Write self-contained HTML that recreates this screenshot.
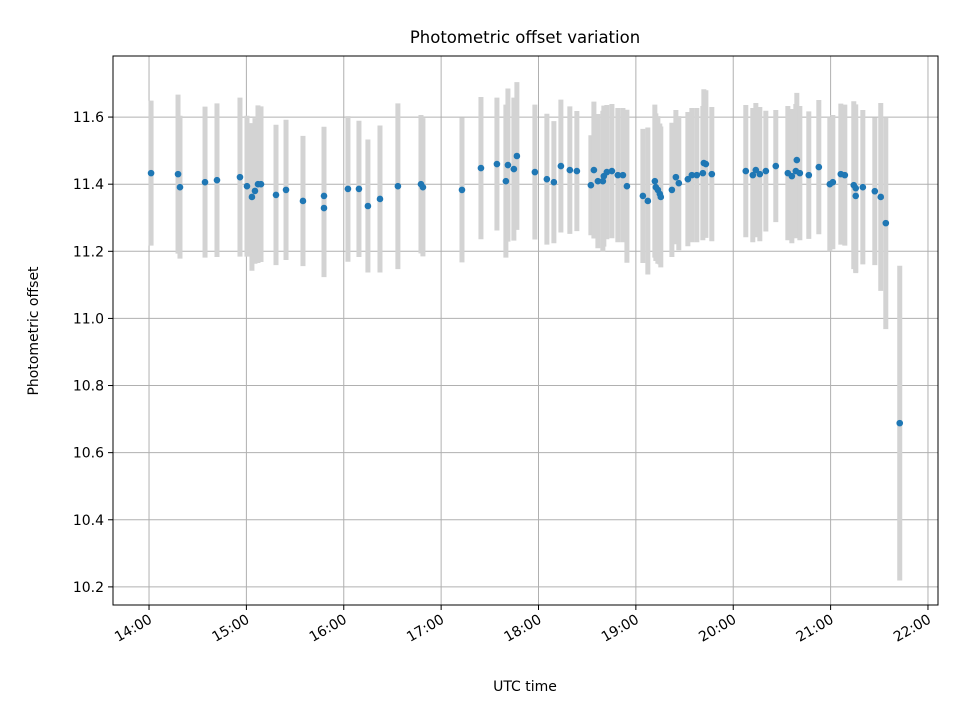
<!DOCTYPE html>
<html><head><meta charset="utf-8"><style>
html,body{margin:0;padding:0;background:#fff;}
svg{display:block;font-family:"DejaVu Sans","Liberation Sans",sans-serif;}
</style></head><body>
<svg id="chart" width="960" height="720" viewBox="0 0 960 720" xmlns="http://www.w3.org/2000/svg">
<text x="525" y="43" text-anchor="middle" font-size="16.5" fill="#000">Photometric offset variation</text>
<g id="grid"></g>
<g id="bars"></g>
<g id="pts"></g>
<rect x="113" y="56" width="825" height="549" fill="none" stroke="#000" stroke-width="1"/>
<g id="xt"></g>
<g id="yt"></g>
<text x="525" y="691" text-anchor="middle" font-size="14" fill="#000">UTC time</text>
<text transform="translate(38,331) rotate(-90)" text-anchor="middle" font-size="14" fill="#000">Photometric offset</text>
</svg>
<script>
const times=[14.021,14.298,14.318,14.575,14.698,14.934,15.006,15.057,15.088,15.119,15.150,15.304,15.407,15.581,15.797,15.797,16.043,16.156,16.248,16.372,16.556,16.793,16.813,17.214,17.409,17.573,17.665,17.686,17.747,17.778,17.963,18.086,18.158,18.230,18.322,18.394,18.538,18.569,18.610,18.661,18.671,18.702,18.754,18.815,18.867,18.908,19.072,19.123,19.195,19.205,19.226,19.246,19.256,19.370,19.411,19.441,19.534,19.575,19.626,19.688,19.698,19.719,19.780,20.129,20.201,20.232,20.273,20.335,20.437,20.561,20.602,20.643,20.653,20.684,20.776,20.879,20.992,21.023,21.105,21.146,21.238,21.258,21.258,21.331,21.454,21.515,21.567,21.710];
const offsets=[11.433,11.430,11.391,11.406,11.412,11.421,11.394,11.362,11.380,11.400,11.400,11.368,11.383,11.350,11.365,11.329,11.386,11.386,11.335,11.356,11.394,11.400,11.391,11.383,11.448,11.460,11.409,11.457,11.445,11.484,11.436,11.415,11.406,11.454,11.442,11.439,11.397,11.442,11.409,11.409,11.424,11.436,11.439,11.427,11.427,11.394,11.365,11.350,11.409,11.391,11.383,11.371,11.362,11.383,11.421,11.403,11.415,11.427,11.427,11.433,11.463,11.460,11.430,11.439,11.427,11.442,11.430,11.439,11.454,11.433,11.424,11.439,11.472,11.433,11.427,11.451,11.400,11.406,11.430,11.427,11.397,11.388,11.365,11.391,11.379,11.362,11.284,10.688];
const errors=[0.216,0.237,0.213,0.225,0.229,0.237,0.21,0.22,0.217,0.235,0.232,0.209,0.209,0.194,0.206,0.206,0.217,0.203,0.198,0.219,0.247,0.206,0.206,0.216,0.212,0.198,0.228,0.228,0.213,0.22,0.201,0.195,0.182,0.198,0.19,0.179,0.149,0.204,0.2,0.21,0.21,0.2,0.2,0.2,0.2,0.228,0.2,0.219,0.228,0.22,0.22,0.21,0.21,0.2,0.2,0.2,0.2,0.2,0.2,0.2,0.22,0.22,0.2,0.197,0.2,0.2,0.2,0.18,0.167,0.2,0.2,0.2,0.2,0.2,0.19,0.2,0.2,0.2,0.21,0.21,0.25,0.25,0.23,0.23,0.22,0.28,0.316,0.469];
const xTickHours=[14,15,16,17,18,19,20,21,22];
const xTickLabels=["14:00","15:00","16:00","17:00","18:00","19:00","20:00","21:00","22:00"];
const yTickValues=[10.2,10.4,10.6,10.8,11.0,11.2,11.4,11.6];
const yTickLabels=["10.2","10.4","10.6","10.8","11.0","11.2","11.4","11.6"];

const NS="http://www.w3.org/2000/svg";
const X0=113,X1=938,Y0=56,Y1=605;
const xMin=13.630,xMax=22.103,yMin=10.146,yMax=11.782;
function sx(h){return X0+(h-xMin)/(xMax-xMin)*(X1-X0);}
function sy(v){return Y1-(v-yMin)/(yMax-yMin)*(Y1-Y0);}
function mk(tag,attrs,parent){const e=document.createElementNS(NS,tag);for(const k in attrs)e.setAttribute(k,attrs[k]);parent.appendChild(e);return e;}
const grid=document.getElementById('grid'),bars=document.getElementById('bars'),pts=document.getElementById('pts'),xt=document.getElementById('xt'),yt=document.getElementById('yt');
xTickHours.forEach((h,i)=>{
  const x=sx(h);
  const g=mk('line',{x1:x,x2:x,y1:Y0,y2:Y1,stroke:'#b0b0b0','stroke-width':1},grid);
  
  
  const t=mk('line',{x1:x,x2:x,y1:Y1,y2:Y1+5,stroke:'#000','stroke-width':1},xt);
  
  
  const l=mk('text',{transform:`translate(${x+4},${Y1+17}) rotate(-30)`,'text-anchor':'end','font-size':14,fill:'#000'},xt);
  l.textContent=xTickLabels[i];
  
  
});
yTickValues.forEach((v,i)=>{
  const y=sy(v);
  const g=mk('line',{x1:X0,x2:X1,y1:y,y2:y,stroke:'#b0b0b0','stroke-width':1},grid);
  
  
  const t=mk('line',{x1:X0-5,x2:X0,y1:y,y2:y,stroke:'#000','stroke-width':1},yt);
  
  
  const l=mk('text',{x:X0-9,y:y+5,'text-anchor':'end','font-size':14,fill:'#000'},yt);
  l.textContent=yTickLabels[i];
  
  
});
times.forEach((h,i)=>{
  const x=sx(h);
  const b=mk('line',{x1:x,x2:x,y1:sy(offsets[i]+errors[i]),y2:sy(offsets[i]-errors[i]),stroke:'#d3d3d3','stroke-width':5},bars);
  
  
});
times.forEach((h,i)=>{
  const c=mk('circle',{cx:sx(h),cy:sy(offsets[i]),r:3.3,fill:'#1f77b4'},pts);
  
  
});
</script>
</body></html>
